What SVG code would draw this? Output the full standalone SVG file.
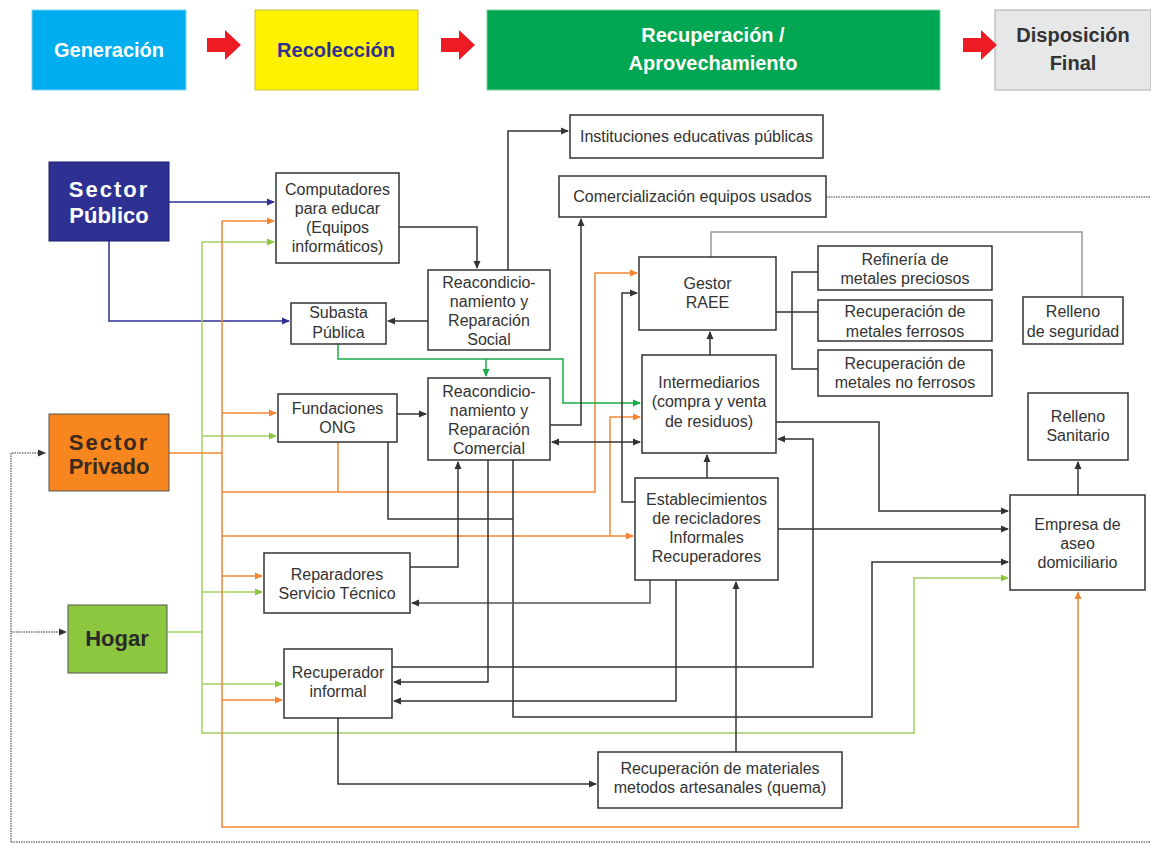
<svg xmlns="http://www.w3.org/2000/svg" width="1151" height="844" viewBox="0 0 1151 844">
<defs>
<style>
.box{fill:#fff;stroke:#333;stroke-width:1.5}
.t{font-family:"Liberation Sans",Arial,sans-serif;font-size:16px;fill:#333;text-anchor:middle}
.hd{font-family:"Liberation Sans",Arial,sans-serif;font-size:20px;font-weight:bold;text-anchor:middle}
.sec{font-family:"Liberation Sans",Arial,sans-serif;font-size:22px;font-weight:bold;text-anchor:middle}
.k{fill:none;stroke:#333;stroke-width:1.5}
.g{fill:none;stroke:#999;stroke-width:1.5}
.n{fill:none;stroke:#2E3192;stroke-width:1.5}
.o{fill:none;stroke:#F58634;stroke-width:1.5}
.lg{fill:none;stroke:#A3CF62;stroke-width:1.5}
.dg{fill:none;stroke:#1AAB4B;stroke-width:1.5}
.d{fill:none;stroke:#777;stroke-width:1.5;stroke-dasharray:1.5 1}
.ah{fill:#ED1C24}
</style>
<marker id="ak" markerWidth="8" markerHeight="8" refX="7" refY="4" orient="auto" markerUnits="userSpaceOnUse"><path d="M0,0.5 L8,4 L0,7.5 z" fill="#333"/></marker>
<marker id="aks" markerWidth="8" markerHeight="8" refX="1" refY="4" orient="auto" markerUnits="userSpaceOnUse"><path d="M8,0.5 L0,4 L8,7.5 z" fill="#333"/></marker>
<marker id="an" markerWidth="8" markerHeight="8" refX="7" refY="4" orient="auto" markerUnits="userSpaceOnUse"><path d="M0,0.5 L8,4 L0,7.5 z" fill="#2E3192"/></marker>
<marker id="ao" markerWidth="8" markerHeight="8" refX="7" refY="4" orient="auto" markerUnits="userSpaceOnUse"><path d="M0,0.5 L8,4 L0,7.5 z" fill="#F58634"/></marker>
<marker id="alg" markerWidth="8" markerHeight="8" refX="7" refY="4" orient="auto" markerUnits="userSpaceOnUse"><path d="M0,0.5 L8,4 L0,7.5 z" fill="#8DC63F"/></marker>
<marker id="adg" markerWidth="8" markerHeight="8" refX="7" refY="4" orient="auto" markerUnits="userSpaceOnUse"><path d="M0,0.5 L8,4 L0,7.5 z" fill="#1AAB4B"/></marker>
<marker id="ad" markerWidth="8" markerHeight="8" refX="7" refY="4" orient="auto" markerUnits="userSpaceOnUse"><path d="M0,0.5 L8,4 L0,7.5 z" fill="#333"/></marker>
</defs>
<rect width="1151" height="844" fill="#fff"/>

<!-- header -->
<g id="h-generacion"><rect x="32" y="10" width="154" height="80" fill="#00AEEF" stroke="#7fd3f2" stroke-width="1"/><text class="hd" x="109" y="57" fill="#fff">Generación</text></g>
<g id="h-recoleccion"><rect x="255" y="10" width="163" height="80" fill="#FFF200" stroke="#c9bf3a" stroke-width="1"/><text class="hd" x="336" y="57" fill="#2E3192">Recolección</text></g>
<g id="h-recuperacion"><rect x="487" y="10" width="453" height="80" fill="#00A651" stroke="#7fcf9f" stroke-width="1"/><text class="hd" x="713" y="42" fill="#fff">Recuperación /</text><text class="hd" x="713" y="70" fill="#fff">Aprovechamiento</text></g>
<g id="h-disposicion"><rect x="995" y="10" width="156" height="80" fill="#E6E7E8" stroke="#aaa" stroke-width="1"/><text class="hd" x="1073" y="42" fill="#333">Disposición</text><text class="hd" x="1073" y="70" fill="#333">Final</text></g>
<g id="h-arrows">
<polygon class="ah" points="207,38 225,38 225,30 241,45 225,60 225,52 207,52"/>
<polygon class="ah" points="441,38 459,38 459,30 475,45 459,60 459,52 441,52"/>
<polygon class="ah" points="963,38 981,38 981,30 997,45 981,60 981,52 963,52"/>
</g>

<!-- connectors -->
<g id="connectors">
<path class="d" d="M826,197 H1151"/>
<path class="d" d="M11,842 V453 H45" marker-end="url(#ad)"/>
<path class="d" d="M11,632 H66" marker-end="url(#ad)"/>
<path class="d" d="M11,842 H1151"/>

<path class="n" d="M169,202 H274" marker-end="url(#an)"/>
<path class="n" d="M109,241 V321 H289" marker-end="url(#an)"/>

<path class="lg" d="M167,632 H202"/>
<path class="lg" d="M202,242 V733 H914 V578 H1008" marker-end="url(#alg)"/>
<path class="lg" d="M202,242 H274" marker-end="url(#alg)"/>
<path class="lg" d="M202,436 H276" marker-end="url(#alg)"/>
<path class="lg" d="M202,592 H262" marker-end="url(#alg)"/>
<path class="lg" d="M202,684 H282" marker-end="url(#alg)"/>

<path class="o" d="M169,453 H222"/>
<path class="o" d="M222,221 V827 H1078 V592" marker-end="url(#ao)"/>
<path class="o" d="M222,221 H274" marker-end="url(#ao)"/>
<path class="o" d="M222,413 H276" marker-end="url(#ao)"/>
<path class="o" d="M222,492 H595 V273 H637" marker-end="url(#ao)"/>
<path class="o" d="M338,442 V492"/>
<path class="o" d="M222,536 H633" marker-end="url(#ao)"/>
<path class="o" d="M610,536 V417 H640" marker-end="url(#ao)"/>
<path class="o" d="M222,576 H262" marker-end="url(#ao)"/>
<path class="o" d="M222,700 H282" marker-end="url(#ao)"/>

<path class="dg" d="M338,344 V359 H563 V403 H640" marker-end="url(#adg)"/>
<path class="dg" d="M486,359 V376" marker-end="url(#adg)"/>

<path class="k" d="M399,227 H477 V268" marker-end="url(#ak)"/>
<path class="k" d="M508,270 V131 H568" marker-end="url(#ak)"/>
<path class="k" d="M428,321 H388" marker-end="url(#ak)"/>
<path class="k" d="M550,425 H581 V219" marker-end="url(#ak)"/>
<path class="k" d="M397,414 H426" marker-end="url(#ak)"/>
<path class="k" d="M552,442 H640" marker-start="url(#aks)" marker-end="url(#ak)"/>
<path class="k" d="M635,502 H622 V293 H637" marker-end="url(#ak)"/>
<path class="k" d="M710,355 V332" marker-end="url(#ak)"/>
<path class="k" d="M776,312 H818 M818,272 H792 V369 H818"/>
<path class="k" d="M776,422 H879 V511 H1008" marker-end="url(#ak)"/>
<path class="k" d="M392,667 H813 V439 H778" marker-end="url(#ak)"/>
<path class="k" d="M707,478 V455" marker-end="url(#ak)"/>
<path class="k" d="M778,529 H1008" marker-end="url(#ak)"/>
<path class="k" d="M513,460 V717 H872 V562 H1008" marker-end="url(#ak)"/>
<path class="k" d="M388,442 V519 H513"/>
<path class="k" d="M410,567 H458 V462" marker-end="url(#ak)"/>
<path class="k" d="M650,580 V603 H412" marker-end="url(#ak)" style="stroke:#555"/>
<path class="k" d="M488,460 V682 H394" marker-end="url(#ak)"/>
<path class="k" d="M676,582 V701 H394" marker-start="url(#ak)" marker-end="url(#ak)"/>
<path class="k" d="M736,752 V582" marker-end="url(#ak)"/>
<path class="k" d="M338,718 V784 H596" marker-end="url(#ak)"/>
<path class="k" d="M1078,495 V462" marker-end="url(#ak)"/>
<path class="g" d="M711,257 V232 H1082 V297"/>
</g>

<!-- nodes -->
<g id="sector-publico"><rect x="49" y="162" width="120" height="79" fill="#2E3192" stroke="#1d1f6b" stroke-width="1"/><text class="sec" x="109" y="197" fill="#fff" letter-spacing="2">Sector</text><text class="sec" x="109" y="223" fill="#fff">Público</text></g>
<g id="sector-privado"><rect x="49" y="414" width="120" height="77" fill="#F7861E" stroke="#555" stroke-width="1"/><text class="sec" x="109" y="450" fill="#3a2a1f" letter-spacing="2">Sector</text><text class="sec" x="109" y="474" fill="#3a2a1f">Privado</text></g>
<g id="hogar"><rect x="68" y="605" width="99" height="68" fill="#8DC63F" stroke="#555" stroke-width="1"/><text class="sec" x="117" y="646" fill="#2a2a2a">Hogar</text></g>

<g id="computadores"><rect class="box" x="276" y="173" width="123" height="90"/><text class="t" x="337.5" y="195">Computadores</text><text class="t" x="337.5" y="214">para educar</text><text class="t" x="337.5" y="233">(Equipos</text><text class="t" x="337.5" y="252">informáticos)</text></g>
<g id="instituciones"><rect class="box" x="570" y="115" width="253" height="43"/><text class="t" x="696.5" y="142">Instituciones educativas públicas</text></g>
<g id="comercializacion"><rect class="box" x="559" y="176" width="267" height="41"/><text class="t" x="692.5" y="202">Comercialización equipos usados</text></g>
<g id="reac-social"><rect class="box" x="428" y="270" width="122" height="80"/><text class="t" x="489" y="288">Reacondicio-</text><text class="t" x="489" y="307">namiento y</text><text class="t" x="489" y="326">Reparación</text><text class="t" x="489" y="345">Social</text></g>
<g id="subasta"><rect class="box" x="291" y="303" width="95" height="41"/><text class="t" x="338.5" y="318">Subasta</text><text class="t" x="338.5" y="338">Pública</text></g>
<g id="gestor"><rect class="box" x="639" y="257" width="137" height="73"/><text class="t" x="707.5" y="289">Gestor</text><text class="t" x="707.5" y="308">RAEE</text></g>
<g id="refineria"><rect class="box" x="818" y="246" width="174" height="44"/><text class="t" x="905" y="265">Refinería de</text><text class="t" x="905" y="284">metales preciosos</text></g>
<g id="ferrosos"><rect class="box" x="818" y="300" width="174" height="41"/><text class="t" x="905" y="317">Recuperación de</text><text class="t" x="905" y="337">metales ferrosos</text></g>
<g id="no-ferrosos"><rect class="box" x="818" y="350" width="174" height="46"/><text class="t" x="905" y="369">Recuperación de</text><text class="t" x="905" y="388">metales no ferrosos</text></g>
<g id="relleno-seguridad"><rect class="box" x="1023" y="297" width="100" height="47"/><text class="t" x="1073" y="317">Relleno</text><text class="t" x="1073" y="337">de seguridad</text></g>
<g id="fundaciones"><rect class="box" x="278" y="394" width="119" height="48"/><text class="t" x="337.5" y="414">Fundaciones</text><text class="t" x="337.5" y="433">ONG</text></g>
<g id="reac-comercial"><rect class="box" x="428" y="378" width="122" height="82"/><text class="t" x="489" y="397">Reacondicio-</text><text class="t" x="489" y="416">namiento y</text><text class="t" x="489" y="435">Reparación</text><text class="t" x="489" y="454">Comercial</text></g>
<g id="intermediarios"><rect class="box" x="642" y="355" width="134" height="98"/><text class="t" x="709" y="388">Intermediarios</text><text class="t" x="709" y="407">(compra y venta</text><text class="t" x="709" y="427">de residuos)</text></g>
<g id="relleno-sanitario"><rect class="box" x="1028" y="393" width="100" height="67"/><text class="t" x="1078" y="422">Relleno</text><text class="t" x="1078" y="441">Sanitario</text></g>
<g id="establecimientos"><rect class="box" x="635" y="478" width="143" height="102"/><text class="t" x="706.5" y="505">Establecimientos</text><text class="t" x="706.5" y="524">de recicladores</text><text class="t" x="706.5" y="543">Informales</text><text class="t" x="706.5" y="562">Recuperadores</text></g>
<g id="empresa-aseo"><rect class="box" x="1010" y="495" width="135" height="95"/><text class="t" x="1077.5" y="530">Empresa de</text><text class="t" x="1077.5" y="549">aseo</text><text class="t" x="1077.5" y="568">domiciliario</text></g>
<g id="reparadores"><rect class="box" x="264" y="553" width="146" height="60"/><text class="t" x="337" y="580">Reparadores</text><text class="t" x="337" y="599">Servicio Técnico</text></g>
<g id="recuperador-informal"><rect class="box" x="284" y="649" width="108" height="69"/><text class="t" x="338" y="678">Recuperador</text><text class="t" x="338" y="697">informal</text></g>
<g id="recuperacion-materiales"><rect class="box" x="598" y="752" width="244" height="56"/><text class="t" x="720" y="774">Recuperación de materiales</text><text class="t" x="720" y="793">metodos artesanales (quema)</text></g>
</svg>
